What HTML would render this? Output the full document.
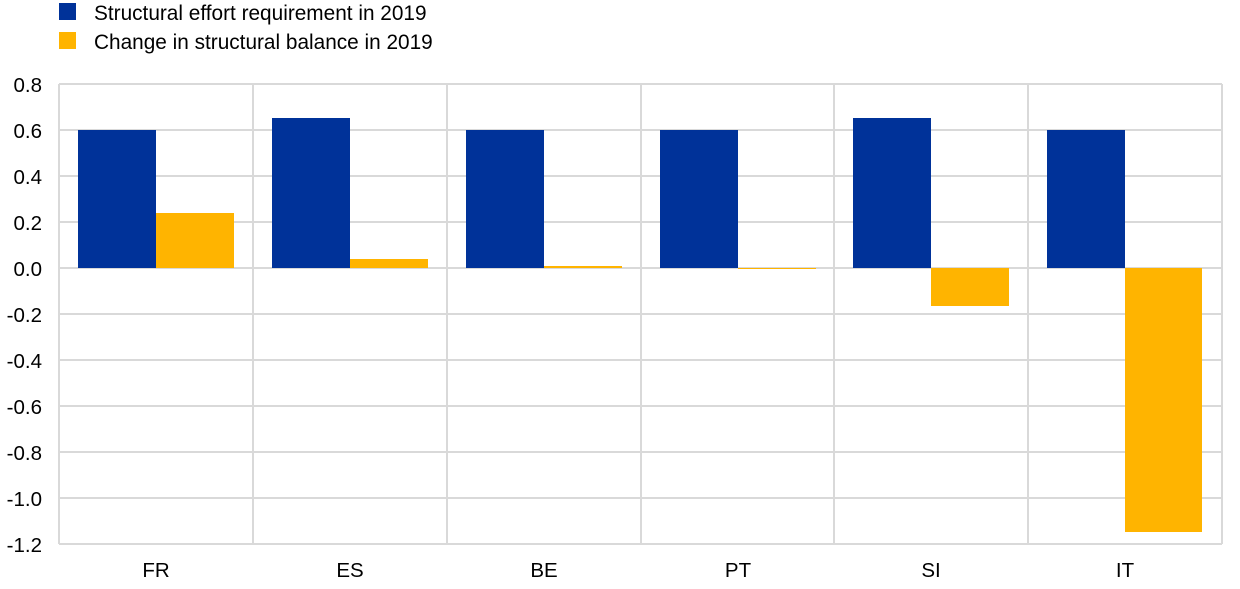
<!DOCTYPE html>
<html><head><style>
html,body{margin:0;padding:0;background:#fff;}
svg{display:block;font-family:"Liberation Sans",Arial,sans-serif;}
</style></head><body>
<svg width="1240" height="589" viewBox="0 0 1240 589" xmlns="http://www.w3.org/2000/svg">
<rect x="59" y="3" width="17" height="17" fill="#003299"/>
<text x="94" y="20" font-size="20.8" fill="#000">Structural effort requirement in 2019</text>
<rect x="59" y="32" width="17" height="17" fill="#FFB400"/>
<text x="94" y="49" font-size="20.8" fill="#000">Change in structural balance in 2019</text>
<g stroke="#d9d9d9" stroke-width="2" fill="none">
<line x1="59" x2="1222" y1="84" y2="84"/>
<line x1="59" x2="1222" y1="130" y2="130"/>
<line x1="59" x2="1222" y1="176" y2="176"/>
<line x1="59" x2="1222" y1="222" y2="222"/>
<line x1="59" x2="1222" y1="268" y2="268"/>
<line x1="59" x2="1222" y1="314" y2="314"/>
<line x1="59" x2="1222" y1="360" y2="360"/>
<line x1="59" x2="1222" y1="406" y2="406"/>
<line x1="59" x2="1222" y1="452" y2="452"/>
<line x1="59" x2="1222" y1="498" y2="498"/>
<line x1="59" x2="1222" y1="544" y2="544"/>
<line x1="59" x2="59" y1="84" y2="544"/>
<line x1="253" x2="253" y1="84" y2="544"/>
<line x1="447" x2="447" y1="84" y2="544"/>
<line x1="641" x2="641" y1="84" y2="544"/>
<line x1="834" x2="834" y1="84" y2="544"/>
<line x1="1028" x2="1028" y1="84" y2="544"/>
<line x1="1222" x2="1222" y1="84" y2="544"/>
</g>
<g fill="#003299">
<rect x="78" y="130" width="78" height="138"/>
<rect x="272" y="118" width="78" height="150"/>
<rect x="466" y="130" width="78" height="138"/>
<rect x="660" y="130" width="78" height="138"/>
<rect x="853" y="118" width="78" height="150"/>
<rect x="1047" y="130" width="78" height="138"/>
</g>
<g fill="#FFB400">
<rect x="156" y="213" width="78" height="55"/>
<rect x="350" y="259" width="78" height="9"/>
<rect x="544" y="266" width="78" height="2"/>
<rect x="738" y="268" width="78" height="1"/>
<rect x="931" y="268" width="78" height="38"/>
<rect x="1125" y="268" width="77" height="264"/>
</g>
<g font-size="20.5" fill="#000" text-anchor="end">
<text x="42" y="92">0.8</text>
<text x="42" y="138">0.6</text>
<text x="42" y="184">0.4</text>
<text x="42" y="230">0.2</text>
<text x="42" y="276">0.0</text>
<text x="42" y="322">-0.2</text>
<text x="42" y="368">-0.4</text>
<text x="42" y="414">-0.6</text>
<text x="42" y="460">-0.8</text>
<text x="42" y="506">-1.0</text>
<text x="42" y="552">-1.2</text>
</g>
<g font-size="20.5" fill="#000" text-anchor="middle">
<text x="156" y="577">FR</text>
<text x="350" y="577">ES</text>
<text x="544" y="577">BE</text>
<text x="738" y="577">PT</text>
<text x="931" y="577">SI</text>
<text x="1125" y="577">IT</text>
</g>
</svg>
</body></html>
